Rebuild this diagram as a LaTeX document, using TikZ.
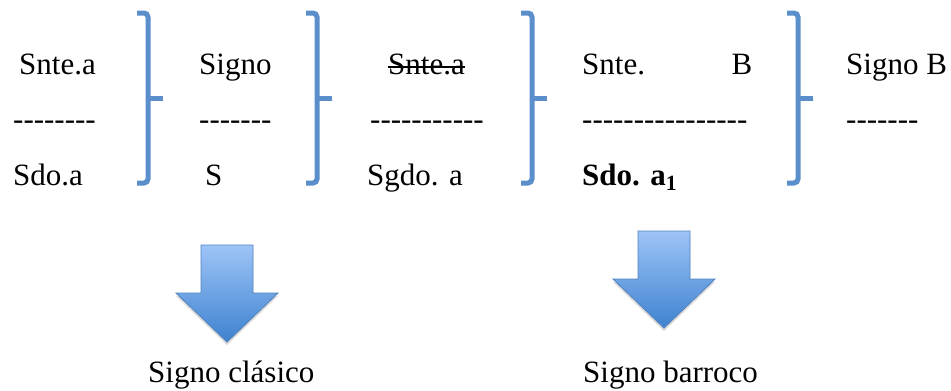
\documentclass[tikz,border=0pt]{standalone}
\usepackage{fontspec}
\setmainfont{Liberation Serif}
\usetikzlibrary{shadows,calc}

\definecolor{bracketblue}{RGB}{91,143,203}
\definecolor{arrowtop}{RGB}{158,196,247}
\definecolor{arrowbot}{RGB}{62,130,208}
\definecolor{arrowline}{RGB}{80,130,190}

% a row of plain hyphens (kern keeps "--" from turning into a dash)
\newcommand{\dashes}[1]{\foreach \k in {1,...,#1}{-\kern0pt}}

\tikzset{
  lbl/.style={inner sep=0pt, anchor=base west, font=\fontsize{31}{36}\selectfont},
  bracket/.style={line width=5pt, bracketblue, rounded corners=4pt,
    preaction={draw, black, opacity=0.12, transform canvas={shift={(1pt,-2pt)}}}},
  blockarrow/.style={draw=arrowline, line width=0.8pt,
    top color=arrowtop, bottom color=arrowbot,
    drop shadow={opacity=0.3, shadow xshift=0pt, shadow yshift=-3pt}}
}

\begin{document}
\begin{tikzpicture}[x=1pt, y=-1pt]
\useasboundingbox (0,0) rectangle (951,391);

% first row
\node [lbl] (snteA)  at (19,74)  {Snte.a};
\node [lbl] (signoA) at (199,74) {Signo};
\node [lbl] (snteB)  at (388,74) {Snte.a};
\draw [line width=1.4pt] ($(snteB.base west)+(0,-7)$) -- ($(snteB.base east)+(0,-7)$);
\node [lbl, text width=170pt] (snteC) at (582,74) {Snte.\hfill B};
\node [lbl] (signoB) at (846,74) {Signo B};

% dashed row
\node [lbl] (lineA) at (13,129)  {\dashes{8}};
\node [lbl] (lineB) at (199,129) {\dashes{7}};
\node [lbl] (lineC) at (370,129) {\dashes{11}};
\node [lbl] (lineD) at (582,129) {\dashes{16}};
\node [lbl] (lineE) at (846,129) {\dashes{7}};

% third row
\node [lbl] (sdoA)  at (13,185)  {Sdo.a};
\node [lbl] (sA)    at (205,185) {S};
\node [lbl] (sgdoA) at (367,185) {Sgdo. a};
\node [lbl] (sdoB)  at (582,185) {\textbf{Sdo. a\textsubscript{1}}};

% braces between the columns
\foreach \bx in {148,317,532,798} {
  \draw [bracket] (\bx-11,13) -- (\bx,13) -- (\bx,183) -- (\bx-11,183);
  \draw [bracket, rounded corners=0pt] (\bx,98) -- (\bx+15,98);
}

% block arrows
\coordinate (clasTop) at (227,245);
\coordinate (barrTop) at (664,231);
\foreach \c in {clasTop,barrTop}
  \draw [blockarrow] (\c) ++(-26,0) -- ++(52,0) -- ++(0,48) -- ++(25,0)
        -- ++(-51,49) -- ++(-51,-49) -- ++(25,0) -- cycle;

\node [lbl] (clasico) at (148,382) {Signo clásico};
\node [lbl] (barroco) at (583,382) {Signo barroco};
\end{tikzpicture}
\end{document}
